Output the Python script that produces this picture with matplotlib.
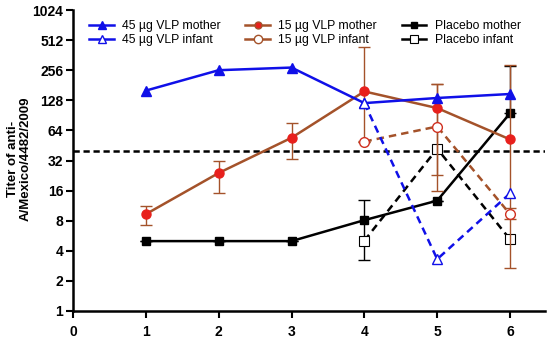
import matplotlib
matplotlib.use("Agg")
import matplotlib.pyplot as plt
import numpy as np
from matplotlib.ticker import FixedLocator, FixedFormatter
from matplotlib.lines import Line2D

plt.rcParams['font.family'] = ['Liberation Sans', 'DejaVu Sans']

# Data
x_all = [1, 2, 3, 4, 5, 6]
x_inf = [4, 5, 6]
vlp45_mother = [160, 256, 272, 120, 135, 148]
vlp45_infant = [120, 3.3, 15]
vlp15_mother = [9.3, 24, 54, 157, 107, 52]
vlp15_mother_lo = [7.2, 15.3, 33, 50, 15.7, 2.7]
vlp15_mother_hi = [11.3, 32, 76, 432, 187, 290]
vlp15_infant = [49.5, 70, 9.3]
vlp15_infant_lo = [49.5, 23, 8.3]
vlp15_infant_hi = [49.5, 187, 10.7]
plac_mother = [5, 5, 5, 8.1, 12.7, 95]
plac_mother_lo = [5, 5, 5, 3.2, 12.7, 95]
plac_mother_hi = [5, 5, 5, 12.9, 12.7, 285]
plac_infant = [5.05, 42, 5.2]
threshold = 40
yticks = [1, 2, 4, 8, 16, 32, 64, 128, 256, 512, 1024]
xticks = [0, 1, 2, 3, 4, 5, 6]
labels = ['45 µg VLP mother', '45 µg VLP infant', '15 µg VLP mother',
          '15 µg VLP infant', 'Placebo mother', 'Placebo infant']

blue = '#1010e8'
brown = '#a4522a'
red = '#e8201c'
dash = (0, (3, 2))

fig = plt.figure(figsize=(5.5, 3.4), dpi=100)
ax = fig.add_axes([73/550, 1-311/340, (545-73)/550, (311-10)/340])

def err(vals, lo, hi):
    v = np.array(vals); return [v - np.array(lo), np.array(hi) - v]

ax.axhline(threshold, color='black', ls=(0, (2.5, 1.5)), lw=1.8, zorder=1)

ax.plot(x_all, vlp45_mother, color=blue, lw=1.8, marker='^', ms=7.5,
        mfc=blue, mec=blue, zorder=5)
ax.plot(x_inf, vlp45_infant, color=blue, lw=1.8, ls=dash, marker='^', ms=7.5,
        mfc='white', mec=blue, mew=1, zorder=5)

ax.errorbar(x_all, vlp15_mother, yerr=err(vlp15_mother, vlp15_mother_lo, vlp15_mother_hi),
            color=brown, lw=1.8, marker='o', ms=6.5, mfc=red, mec=red,
            ecolor=brown, elinewidth=1, capsize=4, capthick=1, zorder=4)
ax.errorbar(x_inf, vlp15_infant, yerr=err(vlp15_infant, vlp15_infant_lo, vlp15_infant_hi),
            color=brown, lw=1.8, ls=dash, marker='o', ms=7, mfc='white', mec='#d03020',
            mew=1, ecolor=brown, elinewidth=1, capsize=4, capthick=1, zorder=4)

ax.errorbar(x_all, plac_mother, yerr=err(plac_mother, plac_mother_lo, plac_mother_hi),
            color='black', lw=1.8, marker='s', ms=5.5, mfc='black', mec='black',
            ecolor='black', elinewidth=1, capsize=4, capthick=1, zorder=3)
ax.plot(x_inf, plac_infant, color='black', lw=1.8, ls=dash, marker='s', ms=7,
        mfc='white', mec='black', mew=0.8, zorder=3)

ax.set_yscale('log', base=2)
ax.set_ylim(1, 1024)
ax.set_xlim(0, 6.48)
ax.yaxis.set_major_locator(FixedLocator(yticks))
ax.yaxis.set_major_formatter(FixedFormatter([str(v) for v in yticks]))
ax.yaxis.set_minor_locator(FixedLocator([]))
ax.set_xticks(xticks)
ax.set_xticklabels([str(v) for v in xticks])

for s in ['top', 'right']:
    ax.spines[s].set_visible(False)
for s in ['left', 'bottom']:
    ax.spines[s].set_linewidth(1.8)
ax.tick_params(axis='both', which='major', direction='out', width=1.5, length=5,
               labelsize=10)
for lab in ax.get_xticklabels() + ax.get_yticklabels():
    lab.set_fontweight('bold')
ax.tick_params(axis='x', pad=5)
ax.tick_params(axis='y', pad=2)

fig.text(19/550, 1-159/340, 'Titer of anti-\nA/Mexico/4482/2009', rotation=90,
         ha='center', va='center', fontsize=9.5, fontweight='bold', linespacing=1.1)

handles = [
    Line2D([], [], color=blue, lw=1.8, marker='^', ms=6, mfc=blue, mec=blue),
    Line2D([], [], color=blue, lw=1.8, marker='^', ms=6, mfc='white', mec=blue),
    Line2D([], [], color=brown, lw=1.8, marker='o', ms=5, mfc=red, mec=brown),
    Line2D([], [], color=brown, lw=1.8, marker='o', ms=6, mfc='white', mec=brown),
    Line2D([], [], color='black', lw=1.8, marker='s', ms=4.5, mfc='black', mec='black'),
    Line2D([], [], color='black', lw=1.8, marker='s', ms=5.5, mfc='white', mec='black', mew=0.8),
]
leg = ax.legend(handles, labels, ncol=3, loc='upper left', bbox_to_anchor=(0.014, 1.0),
                frameon=False, fontsize=8.8, handlelength=2.0, handletextpad=0.7,
                columnspacing=2.0, labelspacing=0.2, borderaxespad=0.4)

fig.savefig('out.png', dpi=100)
